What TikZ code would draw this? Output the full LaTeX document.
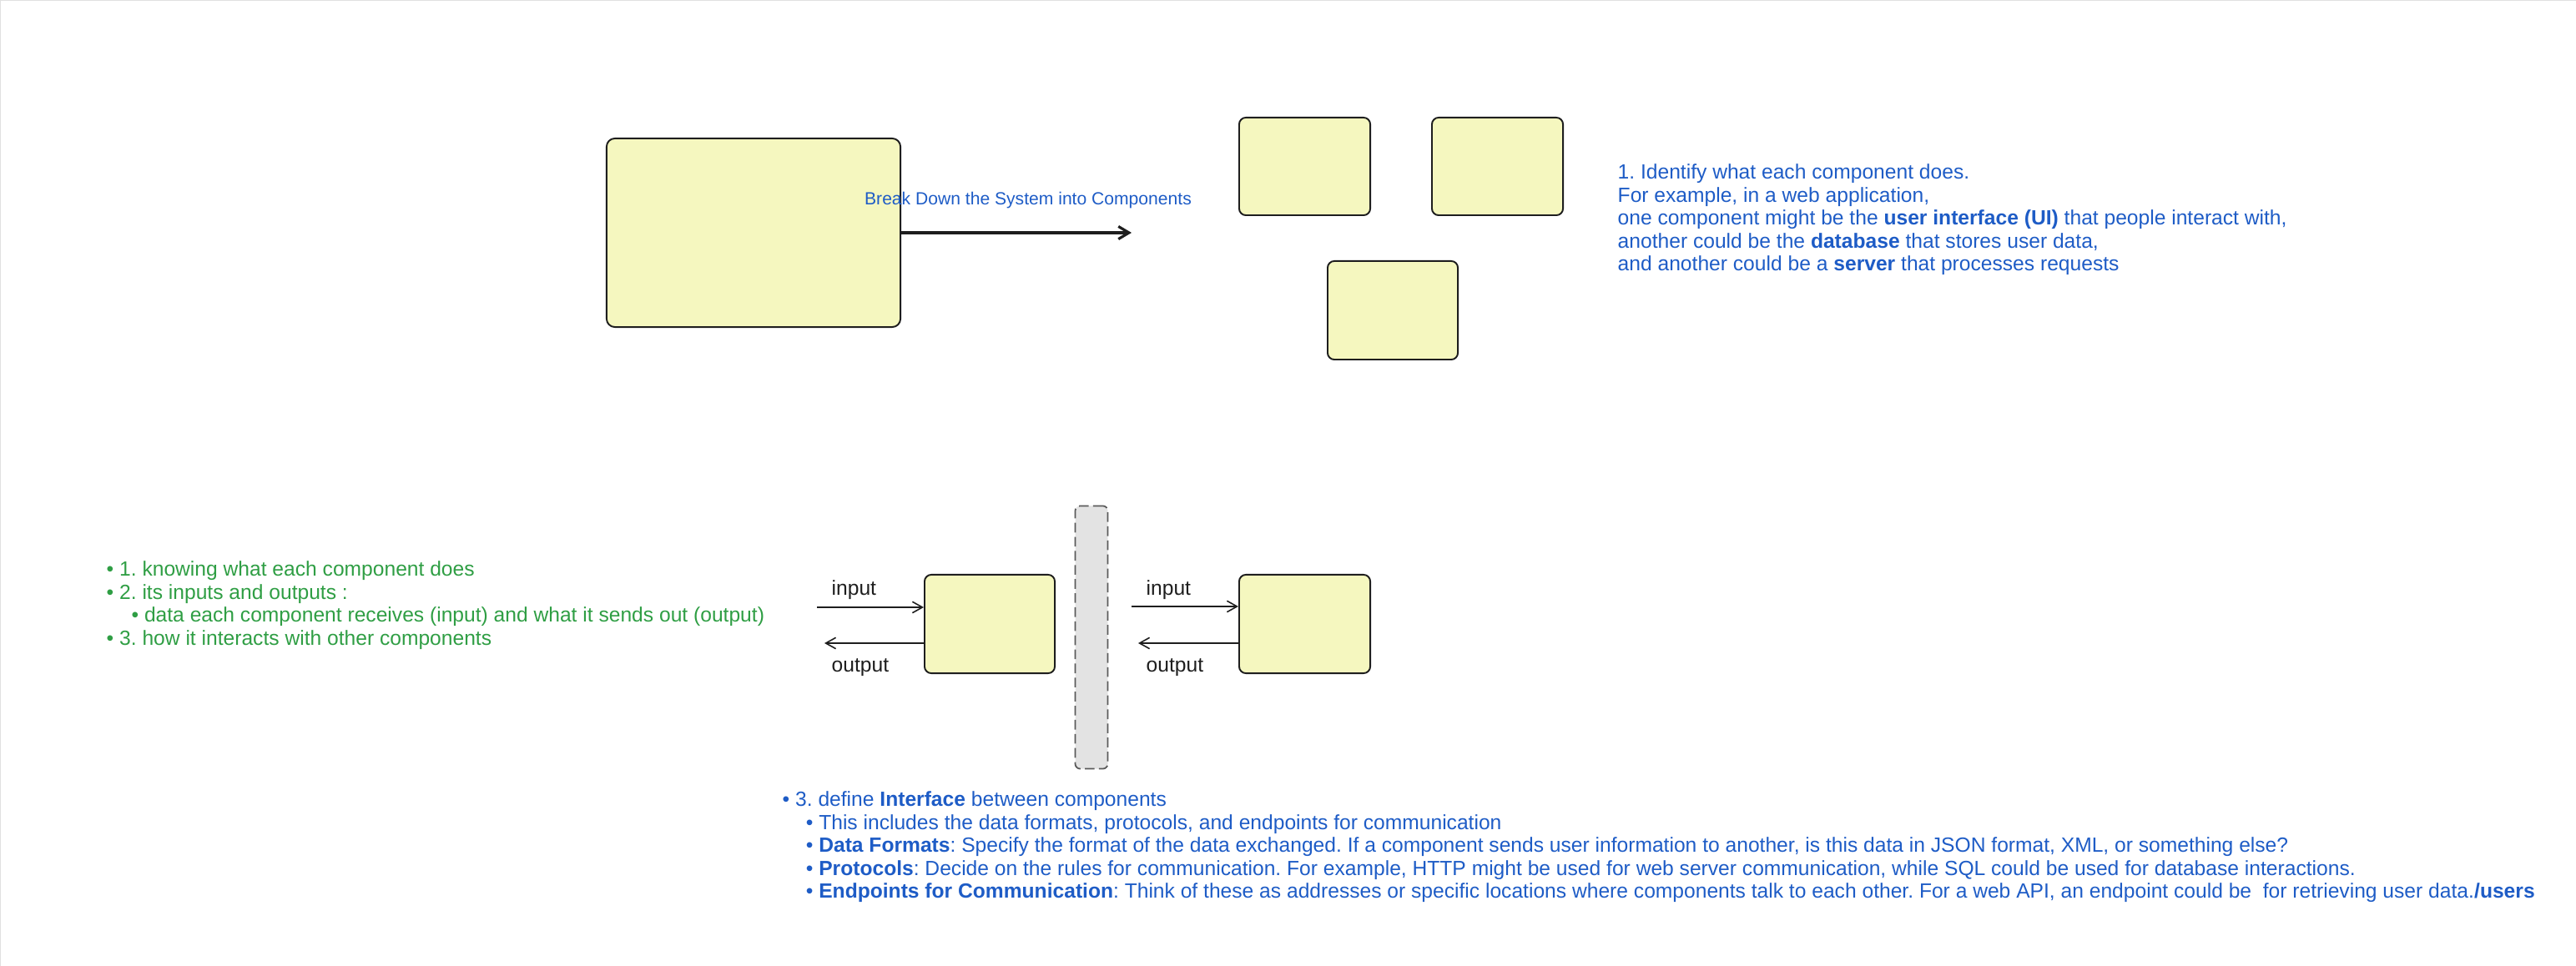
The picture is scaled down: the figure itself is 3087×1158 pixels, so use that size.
\documentclass[tikz,border=0pt]{standalone}
\usepackage{fontspec}
\setmainfont{Liberation Sans}
\usetikzlibrary{arrows.meta,positioning}

\definecolor{boxfill}{HTML}{F5F7BF}
\definecolor{inkblue}{HTML}{1E5CC6}
\definecolor{inkgreen}{HTML}{2F9E44}
\definecolor{inkdark}{HTML}{1E1E1E}
\definecolor{barfill}{HTML}{E3E3E3}
\newcommand{\notesize}{\fontsize{7pt}{7.85pt}\selectfont}
\frenchspacing

\begin{document}
\begin{tikzpicture}[x=0.01cm,y=-0.01cm,
		comp/.style={draw=inkdark,fill=boxfill,line width=0.55pt,rounded corners=0.08cm,inner sep=0pt},
		flow/.style={inkdark,line width=0.45pt,-{Straight Barb[length=3.4pt,width=3.8pt]}},
		note/.style={align=left,anchor=north west,inner sep=0pt,font=\notesize},
		iolabel/.style={inkdark,anchor=base west,inner sep=0pt,font=\notesize}]
			
			\useasboundingbox (0,0) rectangle (3087,1158);
			\draw[black!12,line width=0.6pt] (0,1158) -- (0,0) -- (3087,0);
			
			% the whole system
			\node[comp,rounded corners=0.1cm,minimum width=3.52cm,minimum height=2.26cm] (system) at (903,279) {};
			\coordinate (split) at (1356,279);
			\draw[inkdark,line width=0.9pt,-{Straight Barb[length=3.6pt,width=4.3pt]}] (system.east) -- (split);
			\node[inkblue,anchor=base,inner sep=0pt,font=\fontsize{6pt}{7pt}\selectfont] (splitlabel) at (1232,246) {Break Down the System into Components};
			
			% its components
			\node[comp,minimum width=1.57cm,minimum height=1.17cm] (compA) at (1563.5,199.5) {};
			\node[comp,minimum width=1.57cm,minimum height=1.17cm] (compB) at (1794.5,199.5) {};
			\node[comp,minimum width=1.56cm,minimum height=1.18cm] (compC) at (1669,372) {};
			
			\node[note,inkblue] (identify) at (1938,196) {1. Identify what each component does.\\For example, in a web application,\\one component might be the \textbf{user interface (UI)} that people interact with,\\another could be the \textbf{database} that stores user data,\\and another could be a \textbf{server} that processes requests};
			
			\node[note,inkgreen] (steps) at (127,672) {• 1. knowing what each component does\\• 2. its inputs and outputs :\\\hspace*{8.5pt}• data each component receives (input) and what it sends out (output)\\• 3. how it interacts with other components};
			
			% two components and the interface between them
			\node[comp,minimum width=1.56cm,minimum height=1.18cm] (left) at (1186,748) {};
			\node[comp,minimum width=1.57cm,minimum height=1.18cm] (right) at (1563.5,748) {};
			\node[draw=black!65,fill=barfill,line width=0.5pt,dash pattern=on 3.3pt off 1.5pt,rounded corners=0.06cm,minimum width=0.39cm,minimum height=3.15cm,inner sep=0pt] (iface) at (1308,764) {};
			
			\coordinate (inL) at (979,728);
			\coordinate (outL) at (988,771);
			\coordinate (inR) at (1356,727);
			\coordinate (outR) at (1364,771);
			
			\draw[flow] (inL) -- (inL -| left.west);
			\draw[flow] (outL -| left.west) -- (outL);
			\draw[flow] (inR) -- (inR -| right.west);
			\draw[flow] (outR -| right.west) -- (outR);
			
			\node[iolabel] (inLtext) at (996,713) {input};
			\node[iolabel] (outLtext) at (996,805) {output};
			\node[iolabel] (inRtext) at (1373,713) {input};
			\node[iolabel] (outRtext) at (1373,805) {output};
			
			\node[note,inkblue] (define) at (937,948) {• 3. define \textbf{Interface} between components\\\hspace*{8pt}• This includes the data formats, protocols, and endpoints for communication\\\hspace*{8pt}• \textbf{Data Formats}: Specify the format of the data exchanged. If a component sends user information to another, is this data in JSON format, XML, or something else?\\\hspace*{8pt}• \textbf{Protocols}: Decide on the rules for communication. For example, HTTP might be used for web server communication, while SQL could be used for database interactions.\\\hspace*{8pt}• \textbf{Endpoints for Communication}: Think of these as addresses or specific locations where components talk to each other. For a web API, an endpoint could be \ for retrieving user data.\textbf{/users}};
			
		\end{tikzpicture}
\end{document}
